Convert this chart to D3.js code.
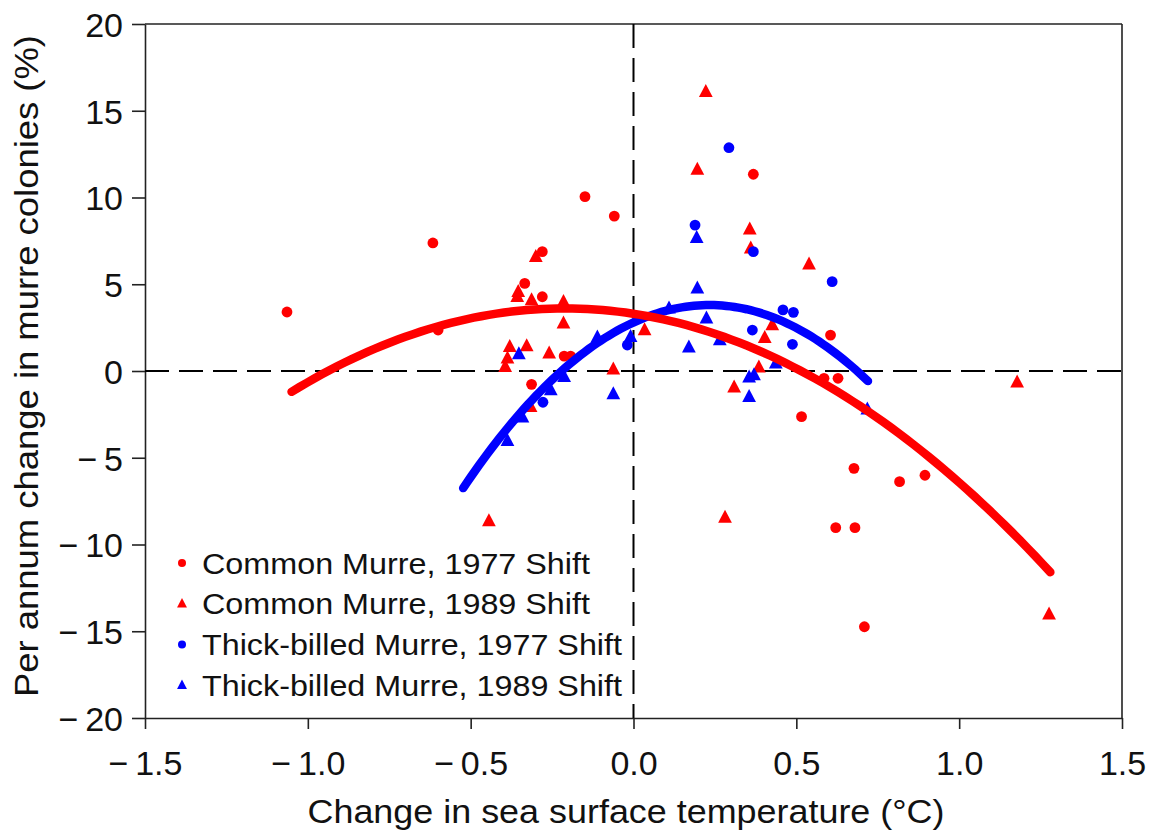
<!DOCTYPE html>
<html>
<head>
<meta charset="utf-8">
<script src="https://cdn.jsdelivr.net/npm/d3@7"></script>
<style>
  html, body { margin: 0; padding: 0; background: #fff; }
  svg { display: block; font-family: "Liberation Sans", Arial, Helvetica, sans-serif; }
</style>
</head>
<body>
<svg id="chart" width="1151" height="831"></svg>
<script>
// ---- data ----
const xTicks = [-1.5, -1.0, -0.5, 0.0, 0.5, 1.0, 1.5];
const yTicks = [-20, -15, -10, -5, 0, 5, 10, 15, 20];

const commonMurre1977 = [
  [-1.064, 3.40], [-0.616, 7.38], [-0.600, 2.36], [-0.334, 5.05], [-0.280, 6.88],
  [-0.280, 4.28], [-0.149, 10.05], [-0.059, 8.93], [-0.213, 0.86], [-0.193, 0.86],
  [-0.313, -0.77], [0.368, 11.34], [0.605, 2.07], [0.585, -0.42], [0.628, -0.42],
  [0.516, -2.63], [0.677, -5.61], [0.817, -6.38], [0.895, -6.01], [0.621, -9.03],
  [0.680, -9.03], [0.709, -14.74]
];
const commonMurre1989 = [
  [-0.444, -8.65], [-0.300, 6.59], [-0.354, 4.57], [-0.357, 4.28], [-0.313, 4.09],
  [-0.215, 3.99], [-0.215, 2.75], [-0.380, 1.40], [-0.328, 1.44], [-0.387, 0.73],
  [-0.394, 0.25], [-0.259, 1.02], [-0.062, 0.10], [-0.316, -2.06], [0.034, 2.36],
  [0.222, 16.10], [0.196, 11.62], [0.357, 8.17], [0.360, 7.07], [0.539, 6.15],
  [0.426, 2.65], [0.403, 1.92], [0.385, 0.21], [0.309, -0.94], [0.281, -8.45],
  [1.178, -0.65], [1.276, -14.02]
];
const thickBilled1977 = [
  [-0.278, -1.80], [-0.019, 1.50], [0.293, 12.87], [0.189, 8.41], [0.368, 6.88],
  [0.610, 5.15], [0.459, 3.52], [0.491, 3.38], [0.365, 2.36], [0.488, 1.54]
];
const thickBilled1989 = [
  [-0.352, 0.98], [-0.062, -1.33], [-0.009, 1.98], [-0.111, 1.94], [-0.213, -0.33],
  [-0.254, -1.10], [-0.341, -2.67], [-0.387, -4.02], [0.196, 4.77], [0.224, 3.04],
  [0.109, 3.61], [0.170, 1.37], [0.265, 1.79], [0.437, 0.44], [0.355, -0.36],
  [0.370, -0.23], [0.355, -1.48], [0.194, 7.68], [0.718, -2.21]
];

// quadratic fits: y = c0 + c1*x + c2*x^2, drawn over [xmin, xmax]
const commonFitCoef = [3.30, -2.891, -6.835];
const commonFitRange = [-1.05, 1.28];
const thickFitCoef = [2.80, 8.60, -18.47];
const thickFitRange = [-0.523, 0.72];

const legendLabels = [
  "Common Murre, 1977 Shift",
  "Common Murre, 1989 Shift",
  "Thick-billed Murre, 1977 Shift",
  "Thick-billed Murre, 1989 Shift"
];

// ---- chart ----
const RED = "#ff0000", BLUE = "#0000ff";
const svg = d3.select("#chart");
const x = d3.scaleLinear().domain([-1.5, 1.5]).range([145, 1122]);
const y = d3.scaleLinear().domain([-20, 20]).range([718, 24]);

const fmtX = d => (d < 0 ? "\u2212\u2009" : "") + Math.abs(d).toFixed(1);
const fmtY = d => (d < 0 ? "\u2212\u2009" : "") + Math.abs(d);

// axes
const gx = svg.append("g").attr("transform", `translate(0,${y(-20)})`)
  .call(d3.axisBottom(x).tickValues(xTicks).tickFormat(fmtX).tickSize(11).tickPadding(20).tickSizeOuter(0));
const gy = svg.append("g").attr("transform", `translate(${x(-1.5)},0)`)
  .call(d3.axisLeft(y).tickValues(yTicks).tickFormat(fmtY).tickSize(13).tickPadding(9).tickSizeOuter(0));
[gx, gy].forEach(g => {
  g.select(".domain").attr("stroke", "#222").attr("stroke-width", 1.6);
  g.selectAll(".tick line").attr("stroke", "#222").attr("stroke-width", 1.6);
  g.selectAll(".tick text").attr("fill", "#111").attr("font-size", 34)
    .attr("font-family", "'Liberation Sans', Arial, sans-serif");
});
gx.selectAll(".tick text").attr("dy", null).attr("y", 57);
gy.selectAll(".tick text").attr("dy", "0.36em");

// frame (top and right)
svg.append("line").attr("x1", x(-1.5)).attr("x2", x(1.5)).attr("y1", y(20)).attr("y2", y(20))
  .attr("stroke", "#222").attr("stroke-width", 1.6);
svg.append("line").attr("x1", x(1.5)).attr("x2", x(1.5)).attr("y1", y(20)).attr("y2", y(-20))
  .attr("stroke", "#222").attr("stroke-width", 1.6);

// dashed reference lines
svg.append("line").attr("x1", x(-1.5)).attr("x2", x(1.5)).attr("y1", y(0)).attr("y2", y(0))
  .attr("stroke", "#000").attr("stroke-width", 2).attr("stroke-dasharray", "24,10");
svg.append("line").attr("x1", x(0)).attr("x2", x(0)).attr("y1", y(20)).attr("y2", y(-20))
  .attr("stroke", "#000").attr("stroke-width", 2).attr("stroke-dasharray", "24,10");

// markers
const tri = s => `M0,${-s * 0.62}L${s * 0.55},${s * 0.42}L${-s * 0.55},${s * 0.42}Z`;
function circles(data, color) {
  svg.append("g").selectAll("circle").data(data).join("circle")
    .attr("cx", d => x(d[0])).attr("cy", d => y(d[1])).attr("r", 5.4).attr("fill", color);
}
function triangles(data, color) {
  svg.append("g").selectAll("path").data(data).join("path")
    .attr("transform", d => `translate(${x(d[0])},${y(d[1])})`)
    .attr("d", tri(12.5)).attr("fill", color);
}
circles(commonMurre1977, RED);
triangles(commonMurre1989, RED);
circles(thickBilled1977, BLUE);
triangles(thickBilled1989, BLUE);

// fitted curves
function fitCurve(coef, range, color) {
  const xs = d3.range(0, 101).map(i => range[0] + (range[1] - range[0]) * i / 100);
  const pts = xs.map(v => [v, coef[0] + coef[1] * v + coef[2] * v * v]);
  svg.append("path").datum(pts)
    .attr("d", d3.line().x(d => x(d[0])).y(d => y(d[1])))
    .attr("fill", "none").attr("stroke", color).attr("stroke-width", 8.5)
    .attr("stroke-linecap", "round");
}
fitCurve(thickFitCoef, thickFitRange, BLUE);
fitCurve(commonFitCoef, commonFitRange, RED);

// legend
const legColors = [RED, RED, BLUE, BLUE];
const legShapes = ["c", "t", "c", "t"];
const legWidths = [388, 388, 420, 420];
legendLabels.forEach((lab, i) => {
  const cy = 563 + i * 40.7;
  if (legShapes[i] === "c") {
    svg.append("circle").attr("cx", 182).attr("cy", cy).attr("r", 4).attr("fill", legColors[i]);
  } else {
    svg.append("path").attr("transform", `translate(182,${cy})`).attr("d", tri(9)).attr("fill", legColors[i]);
  }
  svg.append("text").attr("x", 202).attr("y", cy + 10.5)
    .attr("font-size", 29.5).attr("fill", "#111")
    .attr("textLength", legWidths[i]).attr("lengthAdjust", "spacingAndGlyphs")
    .text(lab);
});

// axis titles
svg.append("text").attr("x", 626).attr("y", 823).attr("text-anchor", "middle")
  .attr("font-size", 33).attr("fill", "#111")
  .attr("textLength", 637).attr("lengthAdjust", "spacingAndGlyphs")
  .text("Change in sea surface temperature (\u00B0C)");
svg.append("text").attr("transform", "translate(38,366) rotate(-90)").attr("text-anchor", "middle")
  .attr("font-size", 33).attr("fill", "#111")
  .attr("textLength", 662).attr("lengthAdjust", "spacingAndGlyphs")
  .text("Per annum change in murre colonies (%)");
</script>
</body>
</html>
